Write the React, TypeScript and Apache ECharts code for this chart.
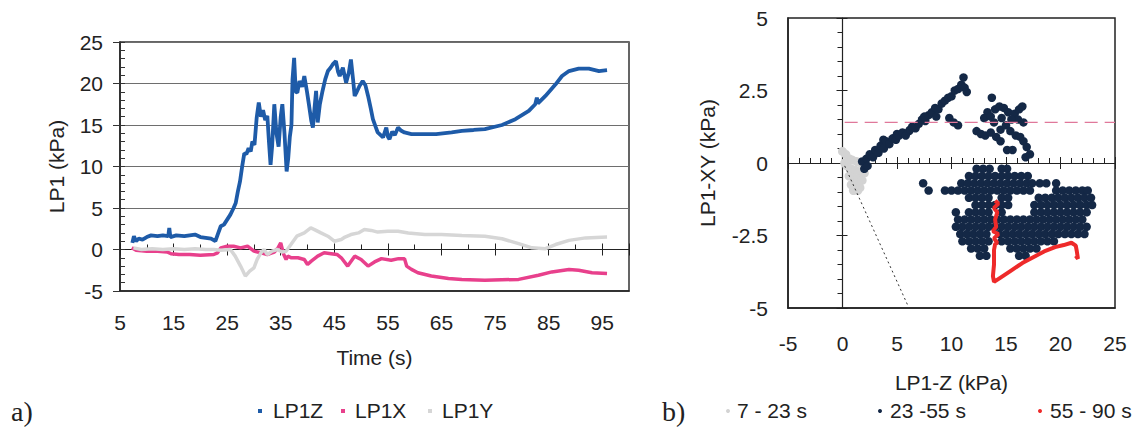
import React, { useEffect, useRef } from 'react';
import * as echarts from 'echarts';

const FONT = '"Liberation Sans", Arial, Helvetica, sans-serif';
const TEXT = '#222';
const FS = 21;

// ---------- Panel a) : LP1 pressures vs time ----------
const timeTicks = { min: 5, max: 100, interval: 10 };
const pressureTicks = { min: -5, max: 25, interval: 5 };

const lp1z: [number, number][] = [
  [7.3, 0.8], [7.6, 1.6], [8.0, 1.0], [8.5, 1.3], [9.2, 1.2], [10.0, 1.5], [10.8, 1.7], [12.0, 1.6],
  [13.0, 1.7], [14.0, 1.6], [14.2, 2.6], [14.4, 1.5], [15.5, 1.7], [17.0, 1.6], [18.0, 1.7], [19.0, 1.8],
  [20.0, 1.5], [21.0, 1.4], [22.0, 1.3], [22.8, 1.0], [23.3, 1.9], [23.8, 2.8], [24.4, 3.0], [25.0, 3.6],
  [25.6, 4.2], [26.2, 5.0], [26.6, 5.6], [27.0, 7.0], [27.4, 8.2], [27.8, 10.0], [28.2, 11.6], [28.6, 11.5],
  [29.0, 12.2], [29.4, 11.8], [29.7, 13.0], [30.1, 12.6], [30.5, 15.8], [30.9, 17.7], [31.3, 16.0],
  [31.7, 16.8], [32.1, 15.6], [32.5, 16.1], [32.8, 13.0], [33.1, 10.2], [33.4, 12.5], [33.8, 17.5],
  [34.2, 14.0], [34.6, 12.4], [35.0, 16.0], [35.3, 17.5], [35.7, 14.0], [36.1, 9.4], [36.4, 11.0],
  [36.7, 13.6], [37.0, 15.0], [37.2, 20.5], [37.5, 23.1], [37.8, 19.0], [38.1, 18.9], [38.5, 20.3],
  [39.0, 19.6], [39.4, 20.9], [39.9, 19.0], [40.3, 17.3], [40.7, 15.5], [41.0, 14.7], [41.3, 17.0],
  [41.6, 19.1], [41.9, 15.3], [42.3, 17.5], [42.8, 19.1], [43.3, 20.5], [43.8, 21.5], [44.3, 21.9],
  [44.7, 22.3], [45.3, 22.7], [45.7, 21.4], [46.0, 20.9], [46.6, 21.9], [47.2, 20.1], [47.7, 21.3],
  [48.1, 22.9], [48.5, 20.5], [48.8, 18.5], [49.2, 19.0], [49.7, 19.7], [50.3, 20.3], [50.8, 19.8],
  [51.3, 18.5], [51.8, 17.0], [52.2, 15.7], [52.7, 14.8], [53.1, 14.1], [53.6, 13.8], [54.1, 13.5],
  [54.7, 14.7], [55.0, 13.6], [55.3, 13.3], [55.8, 14.2], [56.3, 13.8], [56.9, 14.7], [57.5, 14.3],
  [58.1, 14.1], [59.4, 13.9], [61.9, 13.9], [64.0, 13.9], [66.9, 14.1], [68.8, 14.3], [71.0, 14.4],
  [73.1, 14.5], [76.3, 15.0], [78.8, 15.7], [81.3, 16.7], [82.5, 17.5], [82.8, 18.3], [83.0, 17.6],
  [84.4, 18.5], [86.3, 19.9], [87.5, 20.9], [88.8, 21.5], [90.6, 21.8], [92.5, 21.8], [94.4, 21.5],
  [95.9, 21.6],
];

const lp1x: [number, number][] = [
  [7.2, 0.2], [8.0, -0.1], [10.0, -0.2], [12.0, -0.2], [13.8, -0.3], [14.5, -0.5], [16.0, -0.6],
  [18.0, -0.6], [20.0, -0.7], [22.5, -0.6], [23.2, -0.4], [23.8, 0.2], [25.0, 0.4], [26.2, 0.4],
  [27.5, 0.2], [28.8, 0.4], [30.0, -0.2], [31.3, -0.4], [32.5, -0.6], [33.8, -0.3], [34.5, 0.2],
  [35.0, 0.8], [35.5, -0.5], [36.0, -1.2], [36.3, -0.8], [37.0, -1.0], [38.2, -1.0], [39.4, -1.2],
  [40.0, -1.8], [40.7, -1.4], [41.9, -0.8], [43.1, -0.4], [44.4, -0.5], [45.5, -0.6], [46.3, -1.0],
  [47.5, -2.0], [48.8, -0.8], [50.0, -1.2], [51.3, -2.0], [52.5, -1.5], [53.8, -1.1], [55.6, -1.3],
  [57.0, -1.1], [58.1, -1.1], [58.5, -2.0], [59.4, -2.4], [60.6, -2.8], [63.1, -3.2], [66.3, -3.5],
  [68.8, -3.6], [73.1, -3.7], [79.4, -3.6], [83.1, -3.1], [85.6, -2.7], [88.8, -2.4], [90.6, -2.5],
  [93.1, -2.8], [95.9, -2.9],
];

const lp1y: [number, number][] = [
  [7.5, 0.2], [9.0, 0.0], [11.0, 0.1], [13.0, 0.0], [15.0, 0.1], [17.0, 0.0], [19.0, 0.1], [21.0, 0.0],
  [22.5, 0.0], [23.8, -0.1], [25.6, 0.0], [26.5, -0.8], [27.5, -2.0], [28.4, -3.2], [29.2, -2.6],
  [30.0, -2.2], [30.6, -1.2], [31.3, -0.4], [31.9, 0.0], [32.5, -0.6], [33.4, -0.2], [34.4, 0.0],
  [35.2, -0.3], [36.0, -0.2], [36.9, 0.6], [38.0, 1.6], [39.4, 2.0], [40.6, 2.6], [41.3, 2.4],
  [42.5, 2.0], [43.8, 1.6], [45.0, 1.0], [46.3, 1.2], [47.0, 1.5], [48.1, 1.8], [49.5, 2.0], [50.6, 2.4],
  [51.9, 2.3], [53.1, 2.1], [55.0, 2.2], [56.9, 2.2], [58.8, 2.0], [61.9, 1.8], [65.0, 1.8], [68.8, 1.7],
  [73.1, 1.6], [76.3, 1.3], [79.4, 0.7], [81.9, 0.2], [84.4, 0.1], [86.3, 0.6], [88.8, 1.1], [91.9, 1.4],
  [95.9, 1.5],
];

// ---------- Panel b) : LP1-XY vs LP1-Z ----------
const zTicks = { min: -5, max: 25, interval: 5 };
const xyTicks = { min: -5, max: 5, interval: 2.5 };

const phase1: [number, number][] = [
  [0.0, 0.4], [0.3, 0.3], [0.6, 0.15], [0.9, 0.1], [1.3, 0.05], [1.7, 0.0], [2.1, -0.05], [0.2, 0.0],
  [0.4, -0.1], [0.8, -0.2], [1.2, -0.25], [1.6, -0.3], [2.0, -0.35], [0.6, -0.45], [1.0, -0.5],
  [1.4, -0.55], [1.8, -0.6], [0.8, -0.75], [1.2, -0.8], [1.6, -0.85], [1.0, -0.95], [1.4, -0.95],
];

const phase2Upper: [number, number][] = [
  [1.8, 0.05], [2.0, -0.2], [2.2, 0.15], [2.5, 0.3], [2.3, -0.1], [2.8, 0.2], [3.0, 0.45], [3.3, 0.35],
  [3.5, 0.6], [3.8, 0.5], [3.75, 0.8], [4.0, 0.75], [4.3, 0.65], [4.6, 0.85], [4.9, 0.8], [5.0, 1.0],
  [5.2, 0.95], [5.5, 1.05], [5.8, 0.95], [6.1, 1.1], [6.2, 1.15], [6.4, 1.25], [6.7, 1.2], [7.0, 1.35],
  [7.3, 1.5], [7.6, 1.45], [7.9, 1.65], [8.2, 1.75], [8.5, 1.9], [8.8, 1.85], [9.1, 2.05], [9.4, 2.15],
  [9.7, 2.25], [10.0, 2.3], [10.3, 2.5], [10.6, 2.55], [10.9, 2.7], [11.1, 2.95], [11.2, 2.6],
  [11.4, 2.45], [9.8, 1.55], [10.2, 1.4], [10.6, 1.3], [7.5, 1.6], [8.6, 1.6],
  [13.7, 2.25], [13.3, 1.75], [13.0, 1.55], [13.6, 1.6], [14.0, 1.85], [14.4, 1.95], [14.8, 1.9],
  [15.2, 1.75], [14.6, 1.55], [13.9, 1.4], [12.3, 1.1], [12.7, 1.0], [13.1, 0.95], [13.6, 1.05],
  [14.1, 0.9], [14.5, 1.15], [15.0, 1.3], [15.4, 1.1], [15.8, 1.7], [16.2, 1.85], [16.5, 1.95],
  [16.1, 1.5], [16.6, 1.4], [15.9, 0.95], [16.3, 0.9], [16.6, 0.75], [16.9, 0.55], [17.2, 0.3],
  [16.8, 0.2], [15.1, 0.45], [15.6, 0.45], [14.5, 0.75], [15.5, 1.5],
];

// lower cloud, read row by row: [LP1-XY, LP1-Z values along that row]
const phase2LowerRows: [number, number[]][] = [
  [-0.2, [12.3, 12.9, 13.5, 14.6, 15.1]],
  [-0.45, [11.6, 12.2, 12.8, 13.4, 14.0, 14.6, 15.2, 15.8, 16.4, 17.0]],
  [-0.7, [7.4, 10.9, 11.5, 12.1, 12.7, 13.3, 13.9, 14.5, 15.1, 15.7, 16.3, 16.9, 17.4, 18.1, 18.7, 19.6]],
  [-0.95, [7.9, 9.4, 10.0, 10.6, 11.2, 11.8, 12.4, 13.0, 13.6, 14.2, 14.8, 15.4, 16.0, 16.6, 17.2, 19.6, 20.2, 20.8, 21.4, 22.0, 22.5]],
  [-1.2, [11.6, 12.2, 12.8, 13.4, 14.6, 15.2, 18.0, 18.6, 19.2, 19.8, 20.4, 21.0, 21.6, 22.2, 22.8]],
  [-1.45, [12.2, 12.8, 13.4, 14.0, 14.6, 15.2, 17.6, 18.2, 18.8, 19.4, 20.0, 20.6, 21.2, 21.8, 22.4, 22.9]],
  [-1.7, [10.4, 11.6, 12.2, 12.8, 13.4, 14.6, 17.6, 18.2, 18.8, 19.4, 20.0, 20.6, 21.2, 21.8, 22.4]],
  [-1.95, [10.6, 11.2, 11.8, 12.4, 13.0, 13.6, 14.2, 14.8, 15.4, 16.0, 16.6, 17.2, 17.8, 18.4, 19.0, 19.6, 20.2, 20.8, 21.4, 22.0]],
  [-2.2, [10.4, 11.0, 11.6, 12.2, 12.8, 13.4, 14.0, 14.6, 15.2, 15.8, 16.4, 17.0, 17.6, 18.2, 18.8, 19.4, 20.0, 20.6, 21.2, 21.8, 22.4]],
  [-2.45, [10.8, 11.4, 12.0, 12.6, 13.2, 14.4, 15.0, 15.6, 16.2, 16.8, 17.4, 18.0, 18.6, 19.2, 19.8, 20.4, 21.0, 21.6, 22.2]],
  [-2.7, [11.0, 11.6, 12.2, 12.8, 13.4, 14.6, 15.2, 15.8, 16.4, 17.0, 17.6, 18.2, 18.8, 19.4]],
  [-2.95, [11.8, 12.4, 13.0, 15.4, 16.0, 16.6, 17.2, 17.8]],
  [-3.2, [12.6, 13.2, 16.2, 16.8]],
];

const phase3: [number, number][] = [
  [14.0, -1.3], [14.3, -1.4], [13.9, -1.55], [14.2, -1.7], [14.0, -1.95], [14.1, -2.2], [13.8, -2.35],
  [14.3, -2.45], [13.9, -2.6], [14.2, -2.75], [14.0, -2.8], [13.9, -3.0], [13.9, -3.5], [13.8, -3.9],
  [13.9, -4.1], [14.5, -3.95], [15.5, -3.7], [16.5, -3.45], [17.5, -3.25], [18.5, -3.05], [19.5, -2.9],
  [20.3, -2.83], [21.0, -2.75], [21.4, -2.85], [21.5, -3.05], [21.6, -3.3], [21.4, -3.2],
];

const thresholdXY = 1.4;
const thresholdLine: [number, number][] = [[0.2, thresholdXY], [25, thresholdXY]];
const slopeLine: [number, number][] = [[0.2, -0.1], [6.1, -5]];

const leftNames = ['LP1Z', 'LP1X', 'LP1Y'];
const rightNames = ['7 - 23 s', '23 -55 s', '55 - 90 s'];
const COL = {
  z: '#1e5ba8', x: '#e8408c', y: '#d6d6d6',
  p1: '#d3d3d3', p2: '#142846', p3: '#ee2a2a',
};

const labelStyle = { fontSize: FS, color: TEXT, fontFamily: FONT };
const nameStyle = { fontSize: FS, color: TEXT, fontFamily: FONT };
const axisLineStyle = { color: '#222', width: 1.5 };

// legend keys, drawn by hand: [marker x, text x]
const leftKeyPos: [number, number][] = [[258, 273], [341, 355], [428, 442]];
const rightKeyPos: [number, number][] = [[728, 737], [880, 890], [1040, 1050]];
const LEGEND_Y = 410;

function buildGraphic() {
  const g: any[] = [];
  const leftCols = [COL.z, COL.x, COL.y];
  const rightCols = [COL.p1, COL.p2, COL.p3];
  leftNames.forEach((name, i) => {
    const [mx, tx] = leftKeyPos[i];
    g.push({ type: 'rect', shape: { x: mx, y: LEGEND_Y - 1, width: 4, height: 4 }, style: { fill: leftCols[i] }, silent: true });
    g.push({ type: 'text', x: tx, y: LEGEND_Y, style: { text: name, font: `${FS}px ${FONT}`, fill: TEXT, verticalAlign: 'middle', align: 'left' }, silent: true });
  });
  rightNames.forEach((name, i) => {
    const [mx, tx] = rightKeyPos[i];
    g.push({ type: 'circle', shape: { cx: mx, cy: LEGEND_Y + 1, r: 2 }, style: { fill: rightCols[i] }, silent: true });
    g.push({ type: 'text', x: tx, y: LEGEND_Y, style: { text: name, font: `${FS}px ${FONT}`, fill: TEXT, verticalAlign: 'middle', align: 'left' }, silent: true });
  });
  g.push({ type: 'text', left: 11, top: 397, style: { text: 'a)', font: '28px "Liberation Serif", "DejaVu Serif", serif', fill: '#222' } });
  g.push({ type: 'text', left: 662, top: 397, style: { text: 'b)', font: '28px "Liberation Serif", "DejaVu Serif", serif', fill: '#222' } });
  return g;
}

function buildOption() {
  const phase2Lower: [number, number][] = [];
  phase2LowerRows.forEach(([y, xs]) => xs.forEach((x) => phase2Lower.push([x, y])));

  return {
    animation: false,
    backgroundColor: '#fff',
    textStyle: { fontFamily: FONT },
    grid: [
      { left: 120, top: 42, width: 509, height: 249, show: true, borderColor: '#333', borderWidth: 1.5, backgroundColor: 'transparent' },
      { left: 788, top: 18, width: 327, height: 290, show: true, borderColor: '#222', borderWidth: 1.5, backgroundColor: 'transparent' },
    ],
    xAxis: [
      {
        gridIndex: 0, type: 'value', position: 'bottom', ...timeTicks,
        axisLine: { onZero: false, lineStyle: axisLineStyle },
        axisTick: { show: false },
        axisLabel: { ...labelStyle, margin: 21, showMaxLabel: false },
        splitLine: { show: false },
        name: 'Time (s)', nameLocation: 'middle', nameGap: 56, nameTextStyle: nameStyle,
      },
      {
        gridIndex: 0, type: 'value', position: 'bottom', ...timeTicks,
        axisLine: { show: true, onZero: true, onZeroAxisIndex: 0, lineStyle: { color: '#222', width: 1.2 } },
        axisTick: { show: true, inside: true, length: 6, lineStyle: { color: '#222' } },
        minorTick: { show: true, splitNumber: 2, length: 5, lineStyle: { color: '#222' } },
        axisLabel: { show: false },
        splitLine: { show: false },
      },
      {
        gridIndex: 0, type: 'value', position: 'bottom', ...timeTicks,
        axisLine: { show: false, onZero: true, onZeroAxisIndex: 0 },
        axisTick: { show: true, inside: false, length: 6, lineStyle: { color: '#222' } },
        axisLabel: { show: false },
        splitLine: { show: false },
      },
      {
        gridIndex: 1, type: 'value', position: 'bottom', ...zTicks,
        axisLine: { onZero: false, lineStyle: axisLineStyle },
        axisTick: { show: false },
        axisLabel: { ...labelStyle, margin: 25 },
        splitLine: { show: false },
        name: 'LP1-Z (kPa)', nameLocation: 'middle', nameGap: 64, nameTextStyle: nameStyle,
      },
      {
        gridIndex: 1, type: 'value', position: 'bottom', ...zTicks,
        axisLine: { show: true, onZero: true, onZeroAxisIndex: 2, lineStyle: { color: '#222', width: 1.2 } },
        axisTick: { show: true, inside: true, length: 6, lineStyle: { color: '#222' } },
        minorTick: { show: true, splitNumber: 5, length: 5, lineStyle: { color: '#222' } },
        axisLabel: { show: false },
        splitLine: { show: false },
      },
      {
        gridIndex: 1, type: 'value', position: 'bottom', ...zTicks,
        axisLine: { show: false, onZero: true, onZeroAxisIndex: 2 },
        axisTick: { show: true, inside: false, length: 6, lineStyle: { color: '#222' } },
        axisLabel: { show: false },
        splitLine: { show: false },
      },
    ],
    yAxis: [
      {
        gridIndex: 0, type: 'value', position: 'left', ...pressureTicks,
        axisLine: { onZero: false, lineStyle: axisLineStyle },
        axisTick: { show: true, inside: false, length: 7, lineStyle: { color: '#333' } },
        axisLabel: { ...labelStyle, margin: 17 },
        splitLine: { show: true, lineStyle: { color: '#6e6e6e', width: 1.2 } },
        name: 'LP1 (kPa)', nameLocation: 'middle', nameGap: 53, nameRotate: 90, nameTextStyle: nameStyle,
      },
      {
        gridIndex: 0, type: 'value', position: 'left', ...pressureTicks,
        axisLine: { show: false, onZero: false },
        axisTick: { show: true, inside: true, length: 5, lineStyle: { color: '#333' } },
        minorTick: { show: true, splitNumber: 5, length: 5, lineStyle: { color: '#333' } },
        axisLabel: { show: false },
        splitLine: { show: false },
      },
      {
        gridIndex: 1, type: 'value', position: 'left', ...xyTicks,
        axisLine: { onZero: false, lineStyle: axisLineStyle },
        axisTick: { show: false },
        axisLabel: { ...labelStyle, margin: 20 },
        splitLine: { show: false },
        name: 'LP1-XY (kPa)', nameLocation: 'middle', nameGap: 70, nameRotate: 90, nameTextStyle: nameStyle,
      },
      {
        gridIndex: 1, type: 'value', position: 'left', ...xyTicks,
        axisLine: { show: true, onZero: true, onZeroAxisIndex: 3, lineStyle: { color: '#222', width: 1.2 } },
        axisTick: { show: true, inside: false, length: 6, lineStyle: { color: '#222' } },
        minorTick: { show: true, splitNumber: 5, length: 5, lineStyle: { color: '#222' } },
        axisLabel: { show: false },
        splitLine: { show: false },
      },
      {
        gridIndex: 1, type: 'value', position: 'left', ...xyTicks,
        axisLine: { show: false, onZero: true, onZeroAxisIndex: 3 },
        axisTick: { show: true, inside: true, length: 5, lineStyle: { color: '#222' } },
        axisLabel: { show: false },
        splitLine: { show: false },
      },
    ],
    graphic: buildGraphic(),
    series: [
      {
        name: leftNames[1], type: 'line', xAxisIndex: 0, yAxisIndex: 0, data: lp1x, showSymbol: false, symbol: 'none',
        lineStyle: { width: 3.5, color: COL.x }, silent: true,
      },
      {
        name: leftNames[2], type: 'line', xAxisIndex: 0, yAxisIndex: 0, data: lp1y, showSymbol: false, symbol: 'none',
        lineStyle: { width: 3.5, color: COL.y }, silent: true,
      },
      {
        name: leftNames[0], type: 'line', xAxisIndex: 0, yAxisIndex: 0, data: lp1z, showSymbol: false, symbol: 'none',
        lineStyle: { width: 3.8, color: COL.z }, silent: true,
      },
      {
        type: 'line', xAxisIndex: 3, yAxisIndex: 2, data: thresholdLine, symbol: 'none', silent: true,
        lineStyle: { color: '#e0789a', width: 1.3, type: [13, 7] },
      },
      {
        type: 'line', xAxisIndex: 3, yAxisIndex: 2, data: slopeLine, symbol: 'none', silent: true,
        lineStyle: { color: '#333', width: 1, type: [2, 3] },
      },
      {
        name: rightNames[0], type: 'scatter', xAxisIndex: 3, yAxisIndex: 2, data: phase1, symbolSize: 9,
        itemStyle: { color: COL.p1, opacity: 1 }, silent: true,
      },
      {
        name: rightNames[1], type: 'scatter', xAxisIndex: 3, yAxisIndex: 2, data: [...phase2Upper, ...phase2Lower],
        symbolSize: 8.5, itemStyle: { color: COL.p2, opacity: 1 }, silent: true,
      },
      {
        name: rightNames[2], type: 'line', xAxisIndex: 3, yAxisIndex: 2, data: phase3, symbol: 'none', silent: true,
        lineStyle: { width: 4, color: COL.p3 },
      },
    ],
  };
}

export default function App() {
  const ref = useRef<HTMLDivElement>(null);
  useEffect(() => {
    document.body.style.margin = '0';
    const chart = echarts.init(ref.current as HTMLDivElement, null, { renderer: 'svg' });
    chart.setOption(buildOption() as any);
    return () => chart.dispose();
  }, []);
  return <div ref={ref} style={{ width: 1134, height: 432, background: '#fff' }} />;
}
